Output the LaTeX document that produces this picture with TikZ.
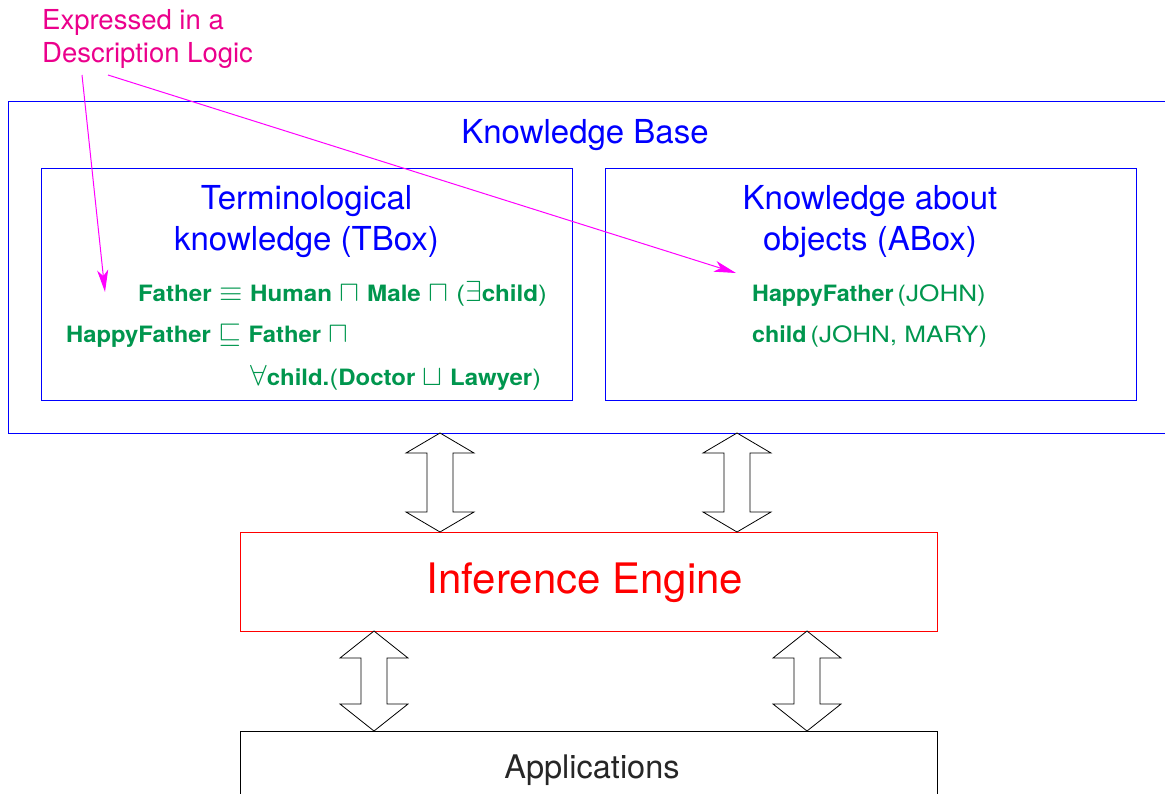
\RequirePackage{fix-cm}
\documentclass[tikz,border=0pt]{standalone}
\usepackage{graphicx}
\usepackage{fontspec}
\setmainfont{TeX Gyre Heros}
\newfontfamily\dlreg{TeX Gyre Heros}[FakeStretch=1.16]
\newfontfamily\dlbold{TeX Gyre Heros}[FakeStretch=1.035]
\usetikzlibrary{arrows.meta}
\definecolor{kbblue}{RGB}{0,0,255}
\definecolor{dlgreen}{RGB}{0,150,78}
\definecolor{notepink}{RGB}{235,0,140}
\definecolor{notemag}{RGB}{255,0,255}
\definecolor{ered}{RGB}{255,0,0}
\newcommand\cn[1]{{\dlbold\bfseries #1}}
\newcommand\dlsym[1]{{\fontsize{29}{30}\selectfont$#1$}}
\newcommand\fitline[2]{\resizebox{#1}{\height}{#2}}
\tikzset{
  frame/.style={draw, line width=1pt, inner sep=0pt, anchor=north west},
  title/.style={text=kbblue, font=\fontsize{33}{40}\selectfont, inner sep=0pt, anchor=base},
  dl/.style={text=dlgreen, font=\dlreg\fontsize{22.5}{27}\selectfont, inner sep=0pt},
  note/.style={text=notepink, font=\fontsize{27.5}{32}\selectfont, inner sep=0pt, anchor=base west},
  notearrow/.style={draw=notemag, line width=1pt, -{Stealth[length=22pt,width=11pt,inset=6pt]}},
  dblarrow/.style={draw=black, line width=0.8pt, fill=white, line join=miter}
}
\newcommand\dblarrowpath[4]{% x, ytop, ybottom, head length
  \path[dblarrow] (#1,#2) -- (#1+34,#2-#4) -- (#1+13,#2-#4) -- (#1+13,#3+#4) -- (#1+34,#3+#4)
    -- (#1,#3) -- (#1-34,#3+#4) -- (#1-13,#3+#4) -- (#1-13,#2-#4) -- (#1-34,#2-#4) -- cycle;}
\begin{document}
\begin{tikzpicture}[x=1pt,y=1pt]
\useasboundingbox (0,0) rectangle (1165,-793);
% boxes
\node[frame, draw=kbblue, minimum width=1170, minimum height=332] (kb) at (8,-101) {};
\node[frame, draw=kbblue, minimum width=531, minimum height=232] (tbox) at (41,-168) {};
\node[frame, draw=kbblue, minimum width=531, minimum height=232] (abox) at (605,-168) {};
\node[frame, draw=ered, minimum width=697, minimum height=99] (ie) at (240,-532) {};
\node[frame, draw=black, minimum width=697, minimum height=90] (apps) at (240,-731) {};
% titles
\node[title] (kbt) at (585,-143) {Knowledge Base};
\node[title] (tt1) at (306.5,-209) {Terminological};
\node[title] (tt2) at (306.5,-250) {knowledge (TBox)};
\node[title] (at1) at (870,-209) {Knowledge about};
\node[title] (at2) at (870,-250) {objects (ABox)};
\node[inner sep=0pt, anchor=base, text=ered, font=\fontsize{42}{50}\selectfont] (iet) at (585,-593) {Inference Engine};
\node[inner sep=0pt, anchor=base, text=black!85, font=\fontsize{32.5}{40}\selectfont] (appt) at (592,-778) {Applications};
% TBox formulas
\node[dl, anchor=base west] (f1) at (138,-301) {\fitline{409pt}{\cn{Father} \dlsym{\equiv} \cn{Human} \dlsym{\sqcap} \cn{Male} \dlsym{\sqcap} (\dlsym{\exists}\cn{child})}};
\node[dl, anchor=base west] (f2) at (66,-342) {\fitline{282pt}{\cn{HappyFather} \dlsym{\sqsubseteq} \cn{Father} \dlsym{\sqcap}}};
\node[dl, anchor=base west] (f3) at (250,-385) {\fitline{291pt}{\dlsym{\forall}\cn{child.}(\cn{Doctor} \dlsym{\sqcup} \cn{Lawyer})}};
% ABox assertions
\node[dl, anchor=base west] (a1) at (752,-301) {\cn{HappyFather}\,(JOHN)};
\node[dl, anchor=base west] (a2) at (752,-342) {\cn{child}\,(JOHN, MARY)};
% annotation
\node[note] (n1) at (42,-29) {Expressed in a};
\node[note] (n2) at (42,-62) {Description Logic};
\coordinate (s1) at (82,-75);
\coordinate (s2) at (108,-75);
\coordinate (e1) at (105,-292);
\coordinate (e2) at (736,-273);
\draw[notearrow] (s1) -- (e1);
\draw[notearrow] (s2) -- (e2);
% double arrows
\dblarrowpath{440}{-433}{-532}{20}
\dblarrowpath{737}{-433}{-532}{20}
\dblarrowpath{374}{-631}{-731}{27}
\dblarrowpath{807}{-631}{-731}{27}
\end{tikzpicture}
\end{document}
